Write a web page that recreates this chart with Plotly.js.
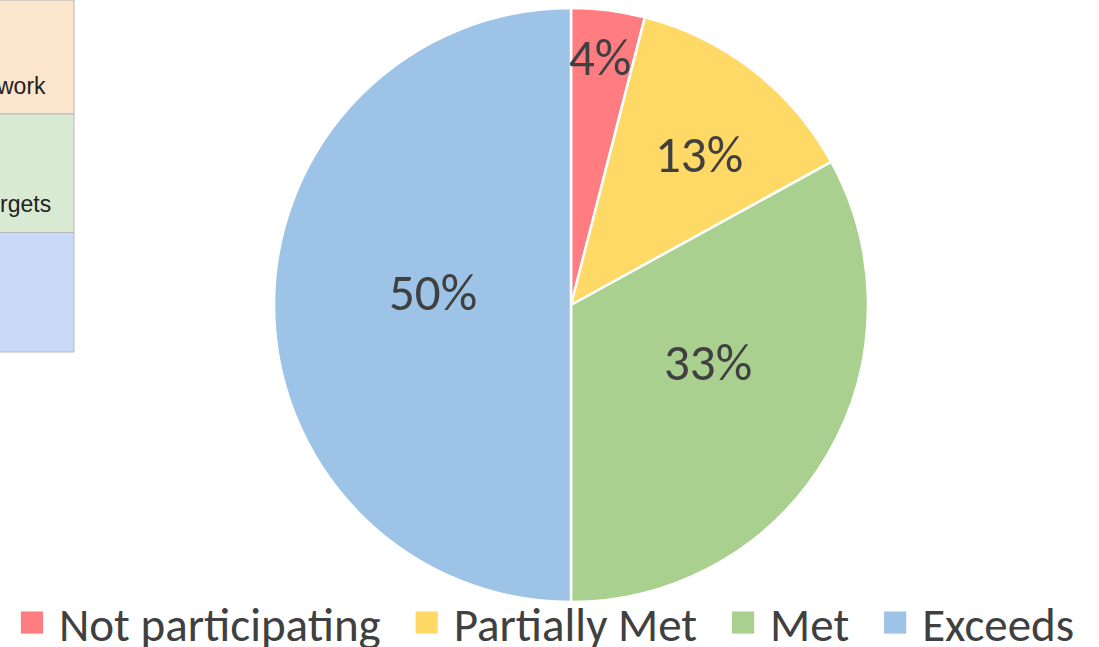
<!DOCTYPE html>
<html>
<head>
<meta charset="utf-8">
<script src="https://cdn.plot.ly/plotly-3.0.1.min.js"></script>
<style>
  html, body { margin: 0; padding: 0; background: #ffffff; }
  #chart { width: 1099px; height: 647px; }
</style>
</head>
<body>
<div id="chart"></div>
<script>
// Share of participants by outcome
const categories = ['Not participating', 'Partially Met', 'Met', 'Exceeds'];
const shares = [4, 13, 33, 50];
const sliceColors = ['#FF7C80', '#FFD966', '#A9D08E', '#9DC3E6'];

// Fragment of the sheet table beside the chart
const tableCellText = ['work', 'rgets', ''];
const tableCellColors = ['#FCE5CD', '#D9EAD3', '#C9DAF8'];

// Geometry (pixels)
const W = 1099, H = 647;
const cx = 571, cy = 305, R = 297;
// label placement: radius as fraction of R, and small angular shift (deg)
const labelRadius = [0.84, 0.665, 0.5, 0.465];
const labelShift = [-0.5, 2.7, -8, 5];
// legend swatch size and extra spacing between legend entries
const swatchScale = 1.85;
const swatchOffset = 13;
const extraGap = 28;

const font = 'Carlito, Lato, "Open Sans", sans-serif';

const total = shares.reduce((a, b) => a + b, 0);
const annotations = [];
let acc = 0;
shares.forEach((v, i) => {
  const mid = (acc + v / 2) / total * 360 + labelShift[i];
  acc += v;
  const a = mid * Math.PI / 180;
  const px = cx + R * labelRadius[i] * Math.sin(a);
  const py = cy - R * labelRadius[i] * Math.cos(a);
  annotations.push({
    xref: 'paper', yref: 'paper', x: px / W, y: 1 - py / H,
    text: Math.round(v / total * 100) + '%', showarrow: false,
    xanchor: 'center', yanchor: 'middle',
    font: { family: font, size: 51, color: '#404040' }
  });
});

// table cells
const cellEdges = [0, 114, 232.5, 352];
const cellRight = 74;
const shapes = [];
tableCellColors.forEach((c, i) => {
  shapes.push({
    type: 'rect', xref: 'paper', yref: 'paper', layer: 'below',
    x0: -0.01, x1: cellRight / W,
    y0: 1 - cellEdges[i + 1] / H, y1: 1 - cellEdges[i] / H,
    fillcolor: c, line: { color: '#B7B7B7', width: 1 }
  });
});
const cellTextRight = [47.5, 52.5];
const cellBaseline = [93, 211];
tableCellText.forEach((t, i) => {
  if (!t) return;
  annotations.push({
    xref: 'paper', yref: 'paper', x: cellTextRight[i] / W, y: 1 - (cellBaseline[i] - 7) / H,
    text: t, showarrow: false, xanchor: 'right', yanchor: 'middle',
    font: { family: 'Arial, "Liberation Sans", sans-serif', size: 23, color: '#222222' }
  });
});

const data = [{
  type: 'pie',
  labels: categories,
  values: shares,
  sort: false,
  direction: 'clockwise',
  rotation: 0,
  marker: { colors: sliceColors, line: { color: '#FFFFFF', width: 2.5 } },
  textinfo: 'none',
  hoverinfo: 'label+percent',
  domain: {
    x: [(cx - R) / W, (cx + R) / W],
    y: [1 - (cy + R) / H, 1 - (cy - R) / H]
  }
}];

const layout = {
  width: W, height: H,
  margin: { l: 0, r: 0, t: 0, b: 0, autoexpand: false },
  paper_bgcolor: '#FFFFFF',
  font: { family: font, color: '#404040' },
  showlegend: true,
  legend: {
    orientation: 'h', x: 0.5, xanchor: 'center', y: 1 - 623 / H, yanchor: 'middle',
    bgcolor: 'rgba(0,0,0,0)',
    font: { family: font, size: 47, color: '#404040' },
    traceorder: 'normal'
  },
  shapes: shapes,
  annotations: annotations
};

Plotly.newPlot('chart', data, layout, { displayModeBar: false, staticPlot: true }).then(gd => {
  // larger square swatches, a little further from their labels
  gd.querySelectorAll('.legendpoints path').forEach(p => {
    p.setAttribute('transform', `translate(${swatchOffset},0) scale(${swatchScale})`);
    p.style.strokeWidth = '0px';
  });
  // wider spacing between entries, keeping the row centred
  const sb = gd.querySelector('.legend .scrollbox');
  if (sb) sb.removeAttribute('clip-path');
  const items = gd.querySelectorAll('.legend .traces');
  const shift = (items.length - 1) * extraGap / 2;
  items.forEach((g, i) => {
    const m = /translate\(([-\d.e]+)[ ,]+([-\d.e]+)\)/.exec(g.getAttribute('transform') || '');
    if (!m) return;
    g.setAttribute('transform', `translate(${+m[1] + i * extraGap - shift},${m[2]})`);
  });
});
</script>
</body>
</html>
